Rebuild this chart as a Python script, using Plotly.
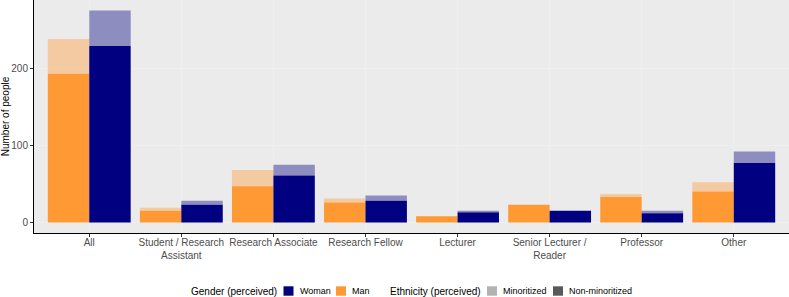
import plotly.graph_objects as go

categories = ["All", "Student / Research<br>Assistant", "Research Associate", "Research Fellow",
              "Lecturer", "Senior Lecturer /<br>Reader", "Professor", "Other"]
man_nonmin = [193, 15, 47, 26, 8, 23, 33, 40]
man_min = [45, 4, 21, 5, 0, 0, 4, 12]
woman_nonmin = [229, 23, 61, 28, 13, 15, 12, 77]
woman_min = [46, 5, 14, 7, 2, 0, 3, 15]

gender_title = "Gender (perceived)"
gender_labels = ["Woman", "Man"]
ethnicity_title = "Ethnicity (perceived)"
ethnicity_labels = ["Minoritized", "Non-minoritized"]

ORANGE = "#FF9933"
NAVY = "#000080"
W, H = 789, 297
ML, MR, MT, MB = 34, 0, 0, 64
idx = list(range(len(categories)))
FONT = "Liberation Sans, Arial, sans-serif"

fig = go.Figure()

def add_bars(vals_base, vals_top, color, name, offset):
    fig.add_trace(go.Bar(x=idx, y=vals_base, width=0.45, offset=offset,
                         marker=dict(color=color, line=dict(width=0)),
                         name=name, showlegend=False))
    fig.add_trace(go.Bar(x=idx, y=vals_top, base=vals_base, width=0.45, offset=offset,
                         marker=dict(color=color, opacity=0.4, line=dict(width=0)),
                         name=name + " (minoritized)", showlegend=False))

add_bars(man_nonmin, man_min, ORANGE, "Man", -0.45)
add_bars(woman_nonmin, woman_min, NAVY, "Woman", 0.0)

# --- manual legend (pixel layout converted to paper coordinates) ---
pw, ph = W - ML - MR, H - MT - MB
def px(x):
    return (x - ML) / pw
def py(y):
    return (H - MB - y) / ph

shapes = []
annotations = []
LEG_Y = 291
def title(text, x):
    annotations.append(dict(text=text, x=px(x), y=py(LEG_Y), xref="paper", yref="paper",
                            xanchor="left", yanchor="middle", showarrow=False,
                            font=dict(size=10, color="black", family=FONT), borderpad=0))
def item(text, x, color):
    shapes.append(dict(type="rect", xref="paper", yref="paper", x0=px(x), x1=px(x + 10),
                       y0=py(LEG_Y - 4.7), y1=py(LEG_Y + 4.7), fillcolor=color,
                       line=dict(width=0)))
    annotations.append(dict(text=text, x=px(x + 15), y=py(LEG_Y), xref="paper", yref="paper",
                            xanchor="left", yanchor="middle", showarrow=False,
                            font=dict(size=9, color="black", family=FONT), borderpad=0))

title(gender_title, 190)
item(gender_labels[0], 283.5, NAVY)
item(gender_labels[1], 336, ORANGE)
title(ethnicity_title, 388.5)
item(ethnicity_labels[0], 487, "#B3B3B3")
item(ethnicity_labels[1], 553, "#595959")

fig.update_layout(
    width=W, height=H,
    margin=dict(l=ML, r=MR, t=MT, b=MB, autoexpand=False),
    barmode="overlay",
    showlegend=False,
    plot_bgcolor="#EBEBEB", paper_bgcolor="white",
    font=dict(family=FONT, size=10, color="#4D4D4D"),
    shapes=shapes, annotations=annotations,
    xaxis=dict(range=[-0.6, 7.6], tickmode="array", tickvals=idx, ticktext=categories,
               ticks="outside", ticklen=3, tickcolor="#333333", showline=True,
               linecolor="black", linewidth=1, showgrid=True, gridcolor="#EFEFEF",
               gridwidth=1, zeroline=False, ticklabelstandoff=-3,
               tickfont=dict(size=10, color="#4D4D4D")),
    yaxis=dict(range=[-13.75, 288.75], tickvals=[0, 100, 200], ticks="outside", ticklen=3,
               tickcolor="#333333", showline=True, linecolor="black", linewidth=1,
               showgrid=True, gridcolor="#EFEFEF", gridwidth=1, zeroline=False,
               title=dict(text="Number of people", font=dict(size=10, color="black"), standoff=4),
               tickfont=dict(size=10, color="#4D4D4D")),
)

fig.write_html("out.html")
